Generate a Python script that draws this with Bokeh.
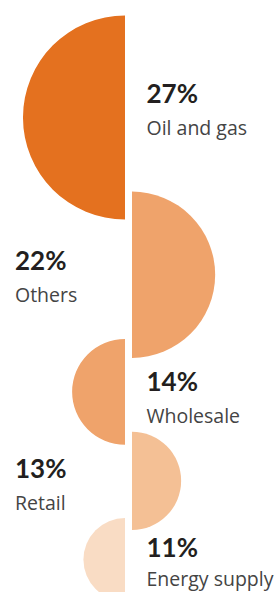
from bokeh.plotting import figure
from bokeh.models import Range1d, ColumnDataSource
from bokeh.embed import file_html
from bokeh.resources import INLINE
from bokeh.core.properties import value
import math

# ---- data ----
categories = ["Oil and gas", "Others", "Wholesale", "Retail", "Energy supply"]
shares = [27, 22, 14, 13, 11]
pct_labels = ["27%", "22%", "14%", "13%", "11%"]

# ---- styles / layout ----
colors = ["#E4711F", "#EFA36B", "#EFA36B", "#F4C095", "#F9DCC4"]
sides = ["left", "right", "left", "right", "left"]
px_per_pct = 3.78           # radius in px per percentage point
first_center = 117          # page y of first half-disc centre
overlaps = [28, 19, 13, 12] # vertical overlap between neighbours (px)
pct_offsets = [-14, -5, -1, -3, -2]
label_gaps = [32, 32, 32, 32, 29]
pct_size, lab_size = 26, 19.5
baseline_fix = 0.39         # empirical shift of the svg text baseline (em)
left_edge_x, right_edge_x = 124.5, 131.5
W, H = 277, 592

radii = [s * px_per_pct for s in shares]
centers = [first_center]
for i in range(1, len(shares)):
    centers.append(centers[-1] + radii[i - 1] + radii[i] - overlaps[i - 1])

xs, ys, starts, ends = [], [], [], []
for side, c in zip(sides, centers):
    if side == "left":
        xs.append(left_edge_x); starts.append(math.pi / 2); ends.append(3 * math.pi / 2)
    else:
        xs.append(right_edge_x); starts.append(-math.pi / 2); ends.append(math.pi / 2)
    ys.append(-c)

src = ColumnDataSource(dict(x=xs, y=ys, r=radii, s=starts, e=ends, color=colors))

p = figure(width=W, height=H, output_backend="svg", toolbar_location=None,
           x_range=Range1d(0, W), y_range=Range1d(-H, 0), min_border=0)
p.axis.visible = False
p.grid.visible = False
p.outline_line_color = None
p.background_fill_color = "white"
p.border_fill_color = "white"

p.wedge(x="x", y="y", radius="r", start_angle="s", end_angle="e",
        fill_color="color", line_color=None, source=src)

tx, ty_pct, ty_lab = [], [], []
for side, c, off, gap in zip(sides, centers, pct_offsets, label_gaps):
    tx.append(146 if side == "left" else 14.5)
    base = c + off
    ty_pct.append(-(base - baseline_fix * pct_size))
    ty_lab.append(-(base + gap - baseline_fix * lab_size))

p.text(x=tx, y=ty_pct, text=pct_labels, text_font=value("Lato"),
       text_font_size=f"{pct_size}px", text_font_style="bold", text_color="#231F20",
       text_baseline="alphabetic", text_align="left")
p.text(x=tx, y=ty_lab, text=categories, text_font=value("Open Sans"),
       text_font_size=f"{lab_size}px", text_color="#444444",
       text_baseline="alphabetic", text_align="left")

open("out.html", "w").write(file_html(p, INLINE))
